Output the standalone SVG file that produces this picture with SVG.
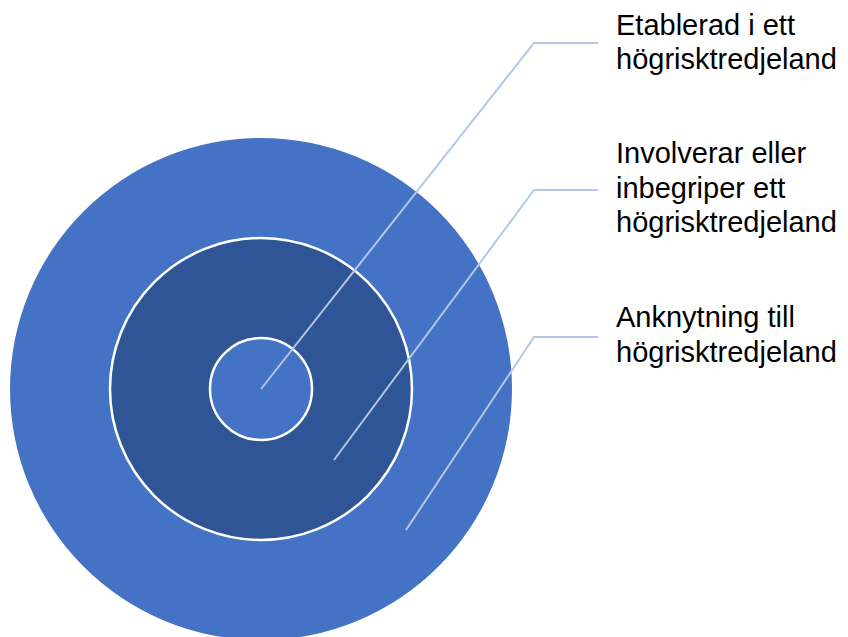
<svg xmlns="http://www.w3.org/2000/svg" width="848" height="637" viewBox="0 0 848 637">
<style>
.ring{stroke:#FFFFFF;stroke-width:2.5}
.lbl{font-family:"Liberation Sans",Arial,sans-serif;font-size:29px;fill:#000000}
.con{fill:none;stroke:#B4C7E7;stroke-width:2}
</style>
<rect width="848" height="637" fill="#FFFFFF"/>
<g id="outer"><circle cx="261" cy="389" r="251" fill="#4472C4"/></g>
<g id="middle"><circle class="ring" cx="261" cy="389" r="151" fill="#2F5597"/></g>
<g id="inner"><circle class="ring" cx="261" cy="389" r="51" fill="#4472C4"/></g>
<g id="connectors">
<polyline class="con" points="261,389 534,43 598,43"/>
<polyline class="con" points="334,460 534,190 598,190"/>
<polyline class="con" points="406,530 534,337 598,337"/>
</g>
<g id="label1"><text class="lbl" x="616" y="35">Etablerad i ett</text><text class="lbl" x="616" y="69">högrisktredjeland</text></g>
<g id="label2"><text class="lbl" x="616" y="163">Involverar eller</text><text class="lbl" x="616" y="198">inbegriper ett</text><text class="lbl" x="616" y="232">högrisktredjeland</text></g>
<g id="label3"><text class="lbl" x="616" y="327">Anknytning till</text><text class="lbl" x="616" y="362">högrisktredjeland</text></g>
</svg>
